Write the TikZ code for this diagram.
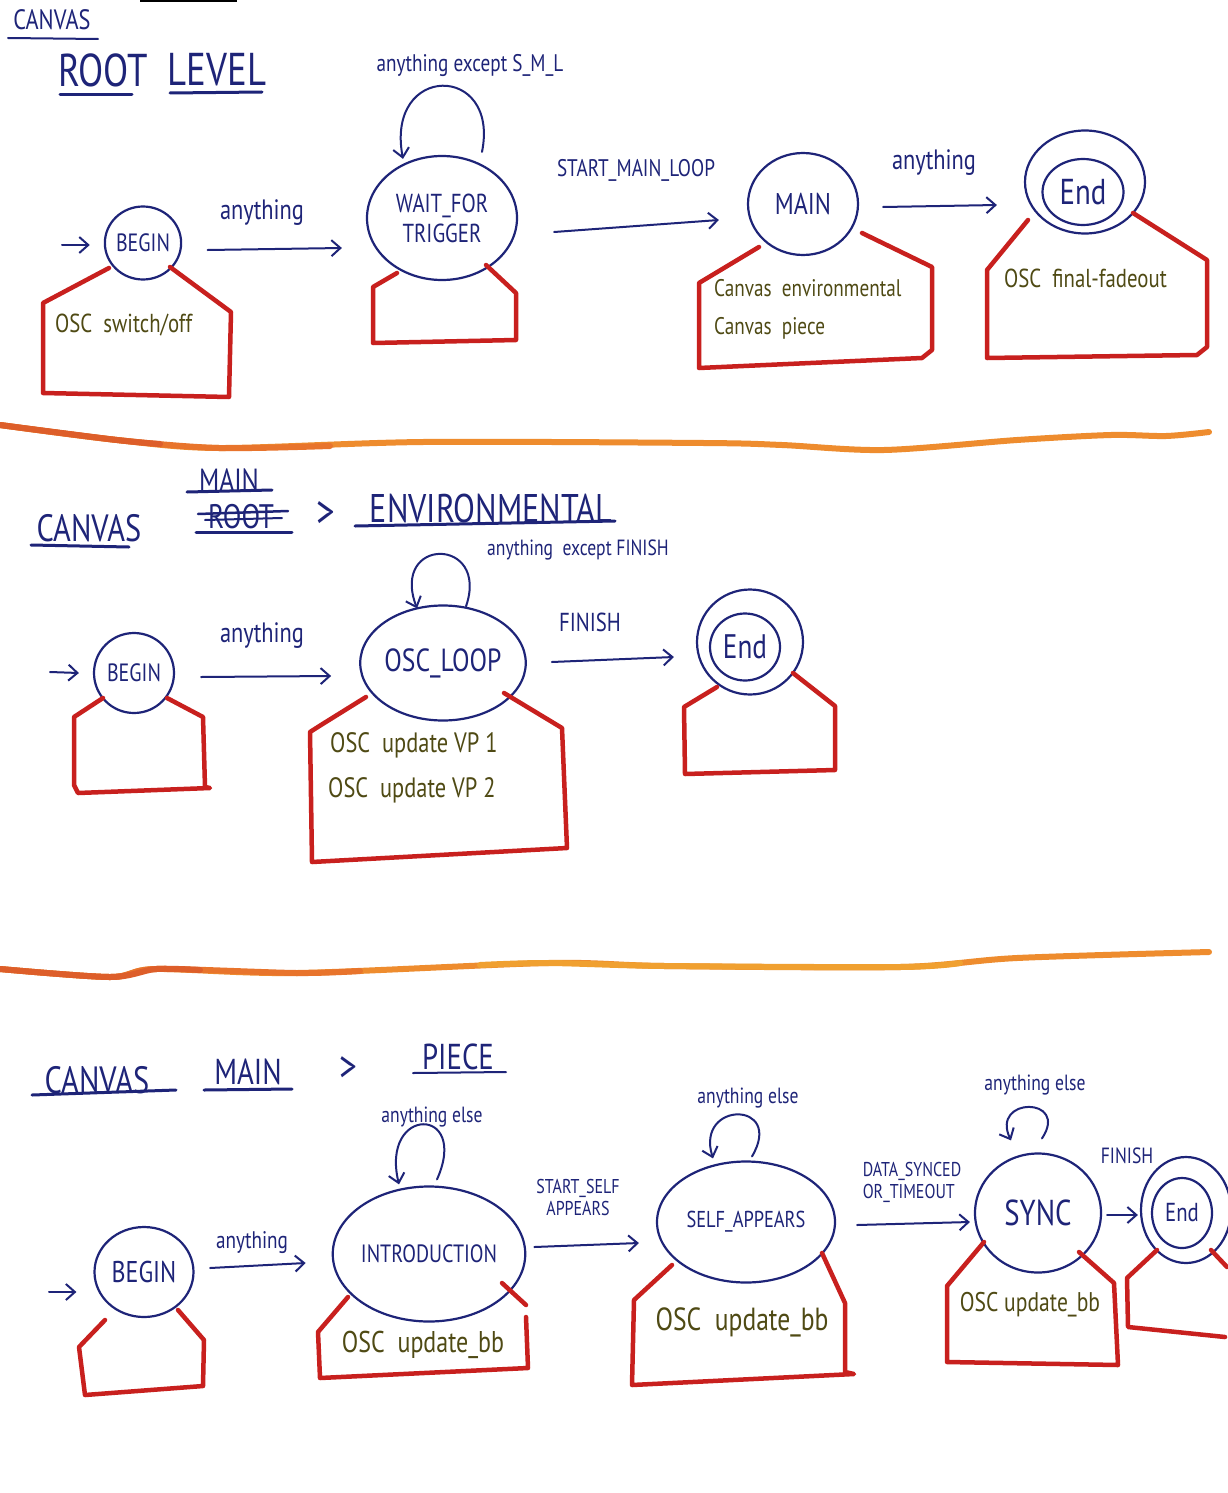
\documentclass[tikz,border=0pt]{standalone}
\usepackage{fontspec}
\newfontfamily\hand{PT Sans}[FakeStretch=0.8]
\usetikzlibrary{arrows.meta,shapes.geometric,calc}
\definecolor{ink}{HTML}{1E2478}
\definecolor{oscol}{HTML}{4F4A14}
\definecolor{hred}{HTML}{C8201E}
\definecolor{sepor}{HTML}{EE8C2E}
\definecolor{sepmid}{HTML}{E8742C}
\definecolor{sepred}{HTML}{DD5E2A}
\definecolor{sepyel}{HTML}{F0A030}
\newcommand\hsz[1]{\hand\fontsize{#1}{#1}\selectfont}
\begin{document}
\begin{tikzpicture}[x=1pt,y=-1pt,
  statebox/.style={ellipse, draw=ink, line width=2.2pt, text=ink, inner sep=0pt, align=center},
  arr/.style={draw=ink, line width=2pt, line cap=round, -{Straight Barb[length=9pt,width=16pt]}},
  lbl/.style={text=ink, inner sep=0pt, align=center},
  housepath/.style={draw=hred, line width=4.5pt, line join=round, line cap=round},
  osctext/.style={text=oscol, inner sep=0pt},
  ttl/.style={text=ink, inner sep=0pt},
  uline/.style={draw=ink, line width=3pt, line cap=round},
  sepline/.style={draw=sepor, line width=6pt, line cap=round}]
\useasboundingbox (0,0) rectangle (1227,1493);
\fill[white] (0,0) rectangle (1227,1493);
\fill[black] (140,0) rectangle (237,2.5);

% ================= Section 1 =================
\node[ttl, font=\hsz{28}] (t1a) at (52,20) {CANVAS};
\draw[uline, line width=2pt] (8,38) -- (98,39);
\node[ttl, font=\hsz{46}] (t1b) at (103,70) {ROOT};
\node[ttl, font=\hsz{46}] (t1c) at (217,70) {LEVEL};
\draw[uline] (60,95) -- (132,95);
\draw[uline] (170,93) -- (262,92);

\node[statebox, minimum width=73, minimum height=73, font=\hsz{25}] (begin1) at (143,243) {BEGIN};
\node[statebox, minimum width=150, minimum height=124, font=\hsz{26}] (wait1) at (442,218) {WAIT\_FOR\\[4pt]TRIGGER};
\node[statebox, minimum width=110, minimum height=102, font=\hsz{30}] (main1) at (803,204) {MAIN};
\node[statebox, minimum width=120, minimum height=103] (end1) at (1085,182) {};
\node[statebox, minimum width=81, minimum height=66, font=\hsz{36}] (end1i) at (1083,192) {End};

\coordinate (init1) at (62,245);
\draw[arr] (init1) -- ($(begin1.west)+(-14,2)$);
\draw[arr] ($(begin1.east)+(25.5,7)$) -- ($(wait1.west)+(-24,30)$);
\draw[arr] ($(wait1.east)+(36,14)$) -- ($(main1.west)+(-28,16)$);
\draw[arr] ($(main1.east)+(24,3)$) -- ($(end1.west)+(-27,23)$);
\draw[arr] ($(wait1.north)+(40,-3)$) .. controls ($(wait1.north)+(58,-92)$) and ($(wait1.north)+(-57,-92)$) .. ($(wait1.north)+(-39,4)$);

\node[lbl, font=\hsz{24}] (l1a) at (470,66) {anything except S\_M\_L};
\node[lbl, font=\hsz{28}] (l1b) at (262,213) {anything};
\node[lbl, font=\hsz{24}] (l1c) at (636,170) {START\_MAIN\_LOOP};
\node[lbl, font=\hsz{28}] (l1d) at (934,163) {anything};

\draw[housepath] (109,268) -- (43,303) -- (43,393) -- (229,397) -- (231,312) -- (170,267);
\draw[housepath] (397,273) -- (373,287) -- (373,343) -- (516,340) -- (516,293) -- (486,265);
\draw[housepath] (759,247) -- (699,283) -- (699,368) -- (922,358) -- (932,350) -- (932,267) -- (862,233);
\draw[housepath] (1028,220) -- (987,270) -- (987,358) -- (1197,355) -- (1207,347) -- (1207,260) -- (1133,213);

\node[osctext, anchor=west, font=\hsz{26}] (o1a) at (55,325) {OSC\ \ switch/off};
\node[osctext, anchor=west, font=\hsz{24}] (o1b) at (714,288) {Canvas\ \ environmental};
\node[osctext, anchor=west, font=\hsz{24}] (o1c) at (714,328) {Canvas\ \ piece};
\node[osctext, anchor=west, font=\hsz{26}] (o1d) at (1004,278) {OSC\ \ final-fadeout};

% separator 1
\draw[sepline] plot[smooth] coordinates {(0,425) (117,440) (219,448) (423,442) (704,443) (782,445) (884,450) (1017,440) (1111,435) (1166,436) (1209,432)};
\draw[sepline, draw=sepmid] plot[smooth] coordinates {(0,425) (117,440) (219,448) (330,446)};
\draw[sepline, draw=sepred] plot[smooth] coordinates {(0,425) (117,440) (160,444)};

% ================= Section 2 =================
\node[ttl, font=\hsz{38}] (t2a) at (89,528) {CANVAS};
\draw[uline] (31,545) -- (129,547);
\node[ttl, font=\hsz{32}] (t2b) at (229,480) {MAIN};
\draw[uline] (187,492) -- (272,490);
\node[ttl, font=\hsz{34}] (t2c) at (241,517) {ROOT};
\draw[uline, line width=2.5pt] (198,514) -- (288,511);
\draw[uline, line width=2pt] (205,520) -- (282,518);
\draw[uline] (196,532) -- (292,532);
\node[ttl, font=\hsz{46}] (t2d) at (326,514) {>};
\node[ttl, font=\hsz{40}] (t2e) at (491,508) {ENVIRONMENTAL};
\draw[uline] (355,526) -- (615,521);

\node[statebox, minimum width=80, minimum height=80, font=\hsz{25}] (begin2) at (134,673) {BEGIN};
\node[statebox, minimum width=154, minimum height=115, font=\hsz{32}] (osc2) at (443,663) {OSC\_LOOP};
\node[statebox, minimum width=106, minimum height=105] (end2) at (750,642) {};
\node[statebox, minimum width=70, minimum height=67, font=\hsz{34}] (end2i) at (745,647) {End};

\coordinate (init2) at (50,672);
\draw[arr] (init2) -- ($(begin2.west)+(-14,0)$);
\draw[arr] ($(begin2.east)+(26,4)$) -- ($(osc2.west)+(-28,13)$);
\draw[arr] ($(osc2.east)+(25,-1)$) -- ($(end2.west)+(-22,15)$);
\draw[arr] ($(osc2.north)+(23,2)$) .. controls ($(osc2.north)+(47,-68)$) and ($(osc2.north)+(-53,-68)$) .. ($(osc2.north)+(-26,4)$);

\node[lbl, font=\hsz{22}] (l2a) at (578,550) {anything\ \ except FINISH};
\node[lbl, font=\hsz{28}] (l2b) at (262,636) {anything};
\node[lbl, font=\hsz{26}] (l2c) at (590,622) {FINISH};

\draw[housepath] (103,698) -- (74,717) -- (74,785) -- (78,793) -- (210,788) -- (205,787) -- (203,717) -- (167,698);
\draw[housepath] (366,697) -- (321,725) -- (310,732) -- (312,862) -- (567,848) -- (562,728) -- (504,693);
\draw[housepath] (717,687) -- (684,707) -- (685,774) -- (835,770) -- (835,706) -- (793,673);

\node[osctext, anchor=west, font=\hsz{28}] (o2a) at (330,745) {OSC\ \ update VP 1};
\node[osctext, anchor=west, font=\hsz{28}] (o2b) at (328,790) {OSC\ \ update VP 2};

% separator 2
\draw[sepline] plot[smooth] coordinates {(0,969) (110,977) (156,969) (297,973) (548,963) (665,966) (900,967) (1017,958) (1209,952)};
\draw[sepline, draw=sepyel] plot[smooth] coordinates {(480,965) (548,963) (665,966) (900,967) (960,963)};
\draw[sepline, draw=sepmid] plot[smooth] coordinates {(0,969) (110,977) (156,969) (297,973) (360,971)};
\draw[sepline, draw=sepred] plot[smooth] coordinates {(0,969) (110,977) (156,969) (200,970)};

% ================= Section 3 =================
\node[ttl, font=\hsz{38}] (t3a) at (97,1080) {CANVAS};
\draw[uline] (32,1095) -- (176,1090);
\node[ttl, font=\hsz{36}] (t3b) at (248,1072) {MAIN};
\draw[uline] (204,1090) -- (292,1089);
\node[ttl, font=\hsz{44}] (t3c) at (348,1069) {>};
\node[ttl, font=\hsz{36}] (t3d) at (458,1057) {PIECE};
\draw[uline, line width=2pt] (413,1073) -- (506,1072);

\node[statebox, minimum width=99, minimum height=90, font=\hsz{30}] (begin3) at (144,1272) {BEGIN};
\node[statebox, minimum width=174, minimum height=135, font=\hsz{25}] (intro3) at (429,1254) {INTRODUCTION};
\node[statebox, minimum width=178, minimum height=121, font=\hsz{23}] (self3) at (746,1222) {SELF\_APPEARS};
\node[statebox, minimum width=126, minimum height=119, font=\hsz{36}] (sync3) at (1038,1213) {SYNC};
\node[statebox, minimum width=90, minimum height=106] (end3) at (1186,1210) {};
\node[statebox, minimum width=60, minimum height=70, font=\hsz{26}] (end3i) at (1182,1213) {End};

\coordinate (init3) at (49,1292);
\draw[arr] (init3) -- ($(begin3.west)+(-17,20)$);
\draw[arr] ($(begin3.east)+(15.5,-4)$) -- ($(intro3.west)+(-26,9)$);
\draw[arr] ($(intro3.east)+(8,-7)$) -- ($(self3.west)+(-17,21)$);
\draw[arr] ($(self3.east)+(21,3)$) -- ($(sync3.west)+(-4,9)$);
\draw[arr] ($(sync3.east)+(5,2)$) -- ($(end3.west)+(-2,5)$);
\draw[arr] ($(intro3.north)+(8,-6)$) .. controls ($(intro3.north)+(41,-80)$) and ($(intro3.north)+(-49,-80)$) .. ($(intro3.north)+(-30,-1)$);
\draw[arr] ($(self3.north)+(6,-4)$) .. controls ($(self3.north)+(39,-60)$) and ($(self3.north)+(-51,-60)$) .. ($(self3.north)+(-33,-2)$);
\draw[arr] ($(sync3.north)+(4,-14)$) .. controls ($(sync3.north)+(32,-56)$) and ($(sync3.north)+(-48,-56)$) .. ($(sync3.north)+(-27,-12)$);

\node[lbl, font=\hsz{22}] (l3a) at (432,1117) {anything else};
\node[lbl, font=\hsz{22}] (l3b) at (748,1098) {anything else};
\node[lbl, font=\hsz{22}] (l3c) at (1035,1085) {anything else};
\node[lbl, font=\hsz{24}] (l3d) at (252,1243) {anything};
\node[lbl, font=\hsz{20}] (l3e) at (578,1197) {START\_SELF\\[2pt]APPEARS};
\node[lbl, font=\hsz{20}, align=left] (l3f) at (912,1182) {DATA\_SYNCED\\[2pt]OR\_TIMEOUT};
\node[lbl, font=\hsz{22}] (l3g) at (1127,1156) {FINISH};

\draw[housepath] (105,1320) -- (79,1347) -- (85,1395) -- (203,1386) -- (204,1340) -- (178,1310);
\draw[housepath] (348,1297) -- (318,1332) -- (320,1378) -- (528,1368) -- (526,1317);
\draw[housepath] (526,1305) -- (502,1283);
\draw[housepath] (672,1265) -- (634,1300) -- (632,1385) -- (854,1374) -- (845,1372) -- (845,1303) -- (822,1253);
\draw[housepath] (984,1242) -- (947,1286) -- (947,1362) -- (1118,1365) -- (1114,1283) -- (1079,1252);
\draw[housepath] (1157,1250) -- (1127,1278) -- (1128,1327) -- (1225,1337);
\draw[housepath] (1211,1250) -- (1227,1267);

\node[osctext, font=\hsz{30}] (o3a) at (423,1345) {OSC\ \ update\_bb};
\node[osctext, font=\hsz{32}] (o3b) at (742,1322) {OSC\ \ update\_bb};
\node[osctext, font=\hsz{27}] (o3c) at (1030,1305) {OSC update\_bb};
\end{tikzpicture}
\end{document}
